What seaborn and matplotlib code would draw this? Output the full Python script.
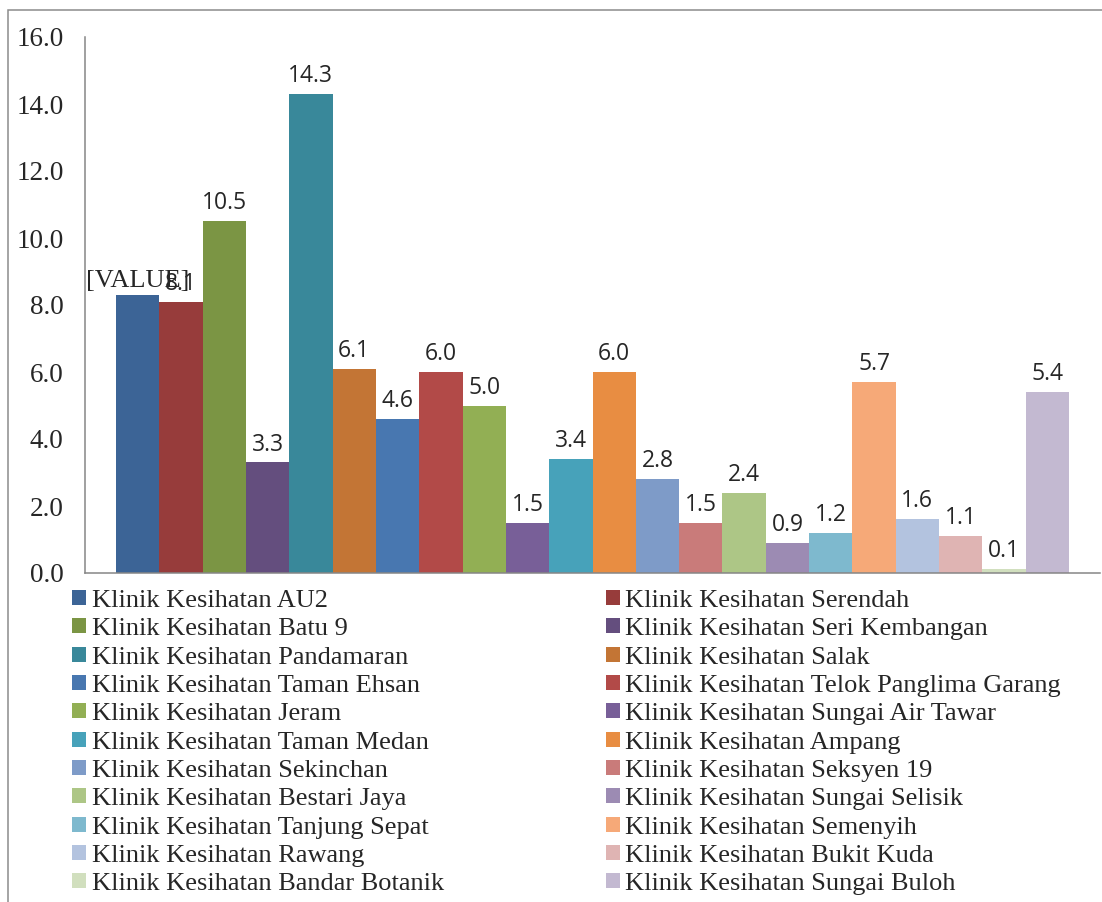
import pandas as pd
import matplotlib

matplotlib.use('Agg')
import matplotlib.pyplot as plt
import matplotlib.patches as mpatches
import seaborn as sns

# ==========================================
# Data
# ==========================================
klinik = [
    "Klinik Kesihatan AU2", "Klinik Kesihatan Serendah", "Klinik Kesihatan Batu 9",
    "Klinik Kesihatan Seri Kembangan", "Klinik Kesihatan Pandamaran", "Klinik Kesihatan Salak",
    "Klinik Kesihatan Taman Ehsan", "Klinik Kesihatan Telok Panglima Garang", "Klinik Kesihatan Jeram",
    "Klinik Kesihatan Sungai Air Tawar", "Klinik Kesihatan Taman Medan", "Klinik Kesihatan Ampang",
    "Klinik Kesihatan Sekinchan", "Klinik Kesihatan Seksyen 19", "Klinik Kesihatan Bestari Jaya",
    "Klinik Kesihatan Sungai Selisik", "Klinik Kesihatan Tanjung Sepat", "Klinik Kesihatan Semenyih",
    "Klinik Kesihatan Rawang", "Klinik Kesihatan Bukit Kuda", "Klinik Kesihatan Bandar Botanik",
    "Klinik Kesihatan Sungai Buloh",
]
nilai = [8.3, 8.1, 10.5, 3.3, 14.3, 6.1, 4.6, 6.0, 5.0, 1.5, 3.4,
         6.0, 2.8, 1.5, 2.4, 0.9, 1.2, 5.7, 1.6, 1.1, 0.12, 5.4]
label_teks = ["[VALUE]"] + [f"{v:.1f}" for v in nilai[1:]]
warna = [
    "#3C6496", "#973C3B", "#7B9544", "#644E7E", "#39889A", "#C37535",
    "#4877B0", "#B24A48", "#92AF54", "#785F98", "#47A2BA", "#E88D42",
    "#7E9BC8", "#C97B7A", "#ADC686", "#9C8BB3", "#7EB9CE", "#F6A978",
    "#B3C3DF", "#DFB4B3", "#D1DFBE", "#C3B9D1",
]
y_ticks = [0, 2, 4, 6, 8, 10, 12, 14, 16]

df = pd.DataFrame({"kategori": [""] * len(klinik), "klinik": klinik, "nilai": nilai})

# ==========================================
# Plot
# ==========================================
sns.set_style("white")
plt.rcParams['font.family'] = ['Liberation Serif', 'DejaVu Serif']

W, H = 1102, 902
fig = plt.figure(figsize=(W / 100, H / 100), dpi=100)
ax = fig.add_axes([85 / W, (H - 573) / H, 1015 / W, 536 / H])

sns.barplot(data=df, x="kategori", y="nilai", hue="klinik", hue_order=klinik,
            palette=warna, width=0.939, gap=0, saturation=1, errorbar=None,
            legend=False, linewidth=0, ax=ax)

ax.set_xlim(-0.5, 0.5)
ax.set_ylim(0, 16)
ax.set_xlabel("")
ax.set_ylabel("")
ax.set_xticks([-0.5, 0.5])
ax.set_xticklabels([])
ax.set_yticks(y_ticks)
ax.set_yticklabels([f"{t:.1f}" for t in y_ticks], fontsize=19.5)
ax.tick_params(axis='both', direction='out', length=4.3, width=1.1, color='#868686')
ax.tick_params(axis='y', pad=11)

for s in ['top', 'right']:
    ax.spines[s].set_visible(False)
for s in ['left', 'bottom']:
    ax.spines[s].set_color('#868686')
    ax.spines[s].set_linewidth(1.1)

# label nilai di atas batang (label pertama memang bertumpuk seperti aslinya)
for i, (cont, teks) in enumerate(zip(ax.containers, label_teks)):
    p = cont.patches[0]
    x = p.get_x() + p.get_width() / 2
    if i == 0:
        ax.annotate(teks, (x, p.get_height()), xytext=(0, 6), textcoords='offset points',
                    ha='center', va='baseline', fontsize=19, family=['Liberation Serif'])
    else:
        ax.annotate(teks, (x, p.get_height()), xytext=(0, 8.6), textcoords='offset points',
                    ha='center', va='baseline', fontsize=16.5, family=['Open Sans', 'DejaVu Sans'])

# legenda dua kolom, urutan per baris
handles = [mpatches.Patch(facecolor=c, edgecolor='none') for c in warna]
urutan = list(range(0, 22, 2)) + list(range(1, 22, 2))
fig.legend([handles[i] for i in urutan], [klinik[i] for i in urutan],
           ncol=2, loc='upper left', bbox_to_anchor=(72 / W, 1 - 590 / H),
           frameon=False, fontsize=19, borderpad=0, borderaxespad=0,
           handlelength=0.52, handleheight=0.5, handletextpad=0.22,
           labelspacing=0.24, columnspacing=6.15)

# bingkai luar grafik
fig.add_artist(mpatches.Rectangle((8 / W, -0.1), 1.2, 1.1 - 10 / H, transform=fig.transFigure,
                                  fill=False, edgecolor='#8C8C8C', linewidth=1.1))

plt.savefig("out.png", dpi=100)
plt.close()
